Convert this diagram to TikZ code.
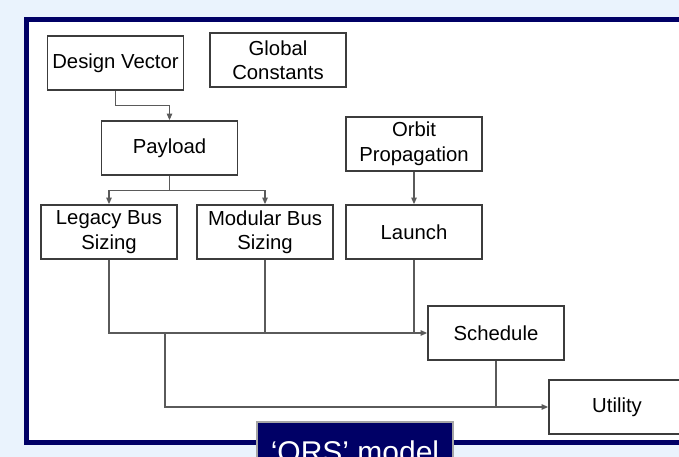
\documentclass[tikz,border=0pt]{standalone}
\usepackage{fontspec}
\setmainfont{Liberation Sans}
\usetikzlibrary{arrows.meta, positioning, calc}
\definecolor{fond}{RGB}{234,243,253}
\definecolor{marine}{RGB}{0,0,102}
\definecolor{trait}{RGB}{60,60,60}
\definecolor{fil}{RGB}{90,90,90}

\begin{document}
\begin{tikzpicture}[x=1pt, y=-1pt,
		bloc/.style={draw=trait, line width=1.8pt, fill=white, minimum width=136pt,
			minimum height=54pt, align=center, inner sep=0pt,
			font=\fontsize{20.3}{24.5}\selectfont},
		lien/.style={draw=fil, line width=1.1pt},
		fleche/.style={lien, -{Triangle[length=6.5pt, width=5.5pt]}}]
	\useasboundingbox (0,0) rectangle (679,457);
	\fill[fond] (0,0) rectangle (679,457);
	% cadre
	\draw[marine, line width=5pt, fill=white] (26.5,19.5) rectangle (700,442.5);
	% blocs
	\node[bloc] (dv)  at (115.5,63) {Design Vector};
	\node[bloc] (gc)  at (278,60)   {Global\\Constants};
	\node[bloc] (pl)  at (169.5,148) {Payload};
	\node[bloc] (op)  at (414,144)  {Orbit\\Propagation};
	\node[bloc] (lbs) at (109,232)  {Legacy Bus\\Sizing};
	\node[bloc] (mbs) at (265,232)  {Modular Bus\\Sizing};
	\node[bloc] (la)  at (414,232)  {Launch};
	\node[bloc] (sc)  at (496,333)  {Schedule};
	\node[bloc] (ut)  at (617,407)  {Utility};
	% liaisons
	\draw[fleche] (dv.south) -- ++(0,15) -| (pl.north);
	\draw[lien] (pl.south) -- ++(0,15) coordinate (ps);
	\draw[fleche] (ps) -| (lbs.north);
	\draw[fleche] (ps) -| (mbs.north);
	\draw[fleche] (op) -- (la);
	\draw[fleche] (lbs.south) |- (sc.west);
	\draw[lien] (mbs.south) -- (mbs.south |- sc.west);
	\draw[lien] (la.south) -- (la.south |- sc.west);
	\coordinate (jn) at (165,333);
	\draw[fleche] (jn) |- (ut.west);
	\draw[lien] (sc.south) -- (sc.south |- ut.west);
	% legende
	\node[draw=gray!70, line width=2pt, fill=marine, text=white, minimum width=196pt,
		minimum height=50pt, anchor=north, font=\fontsize{30}{36}\selectfont,
		text depth=0pt, inner sep=0pt] (titre) at (355,421)
		{\raisebox{-10pt}{‘ORS’ model}};
\end{tikzpicture}
\end{document}
